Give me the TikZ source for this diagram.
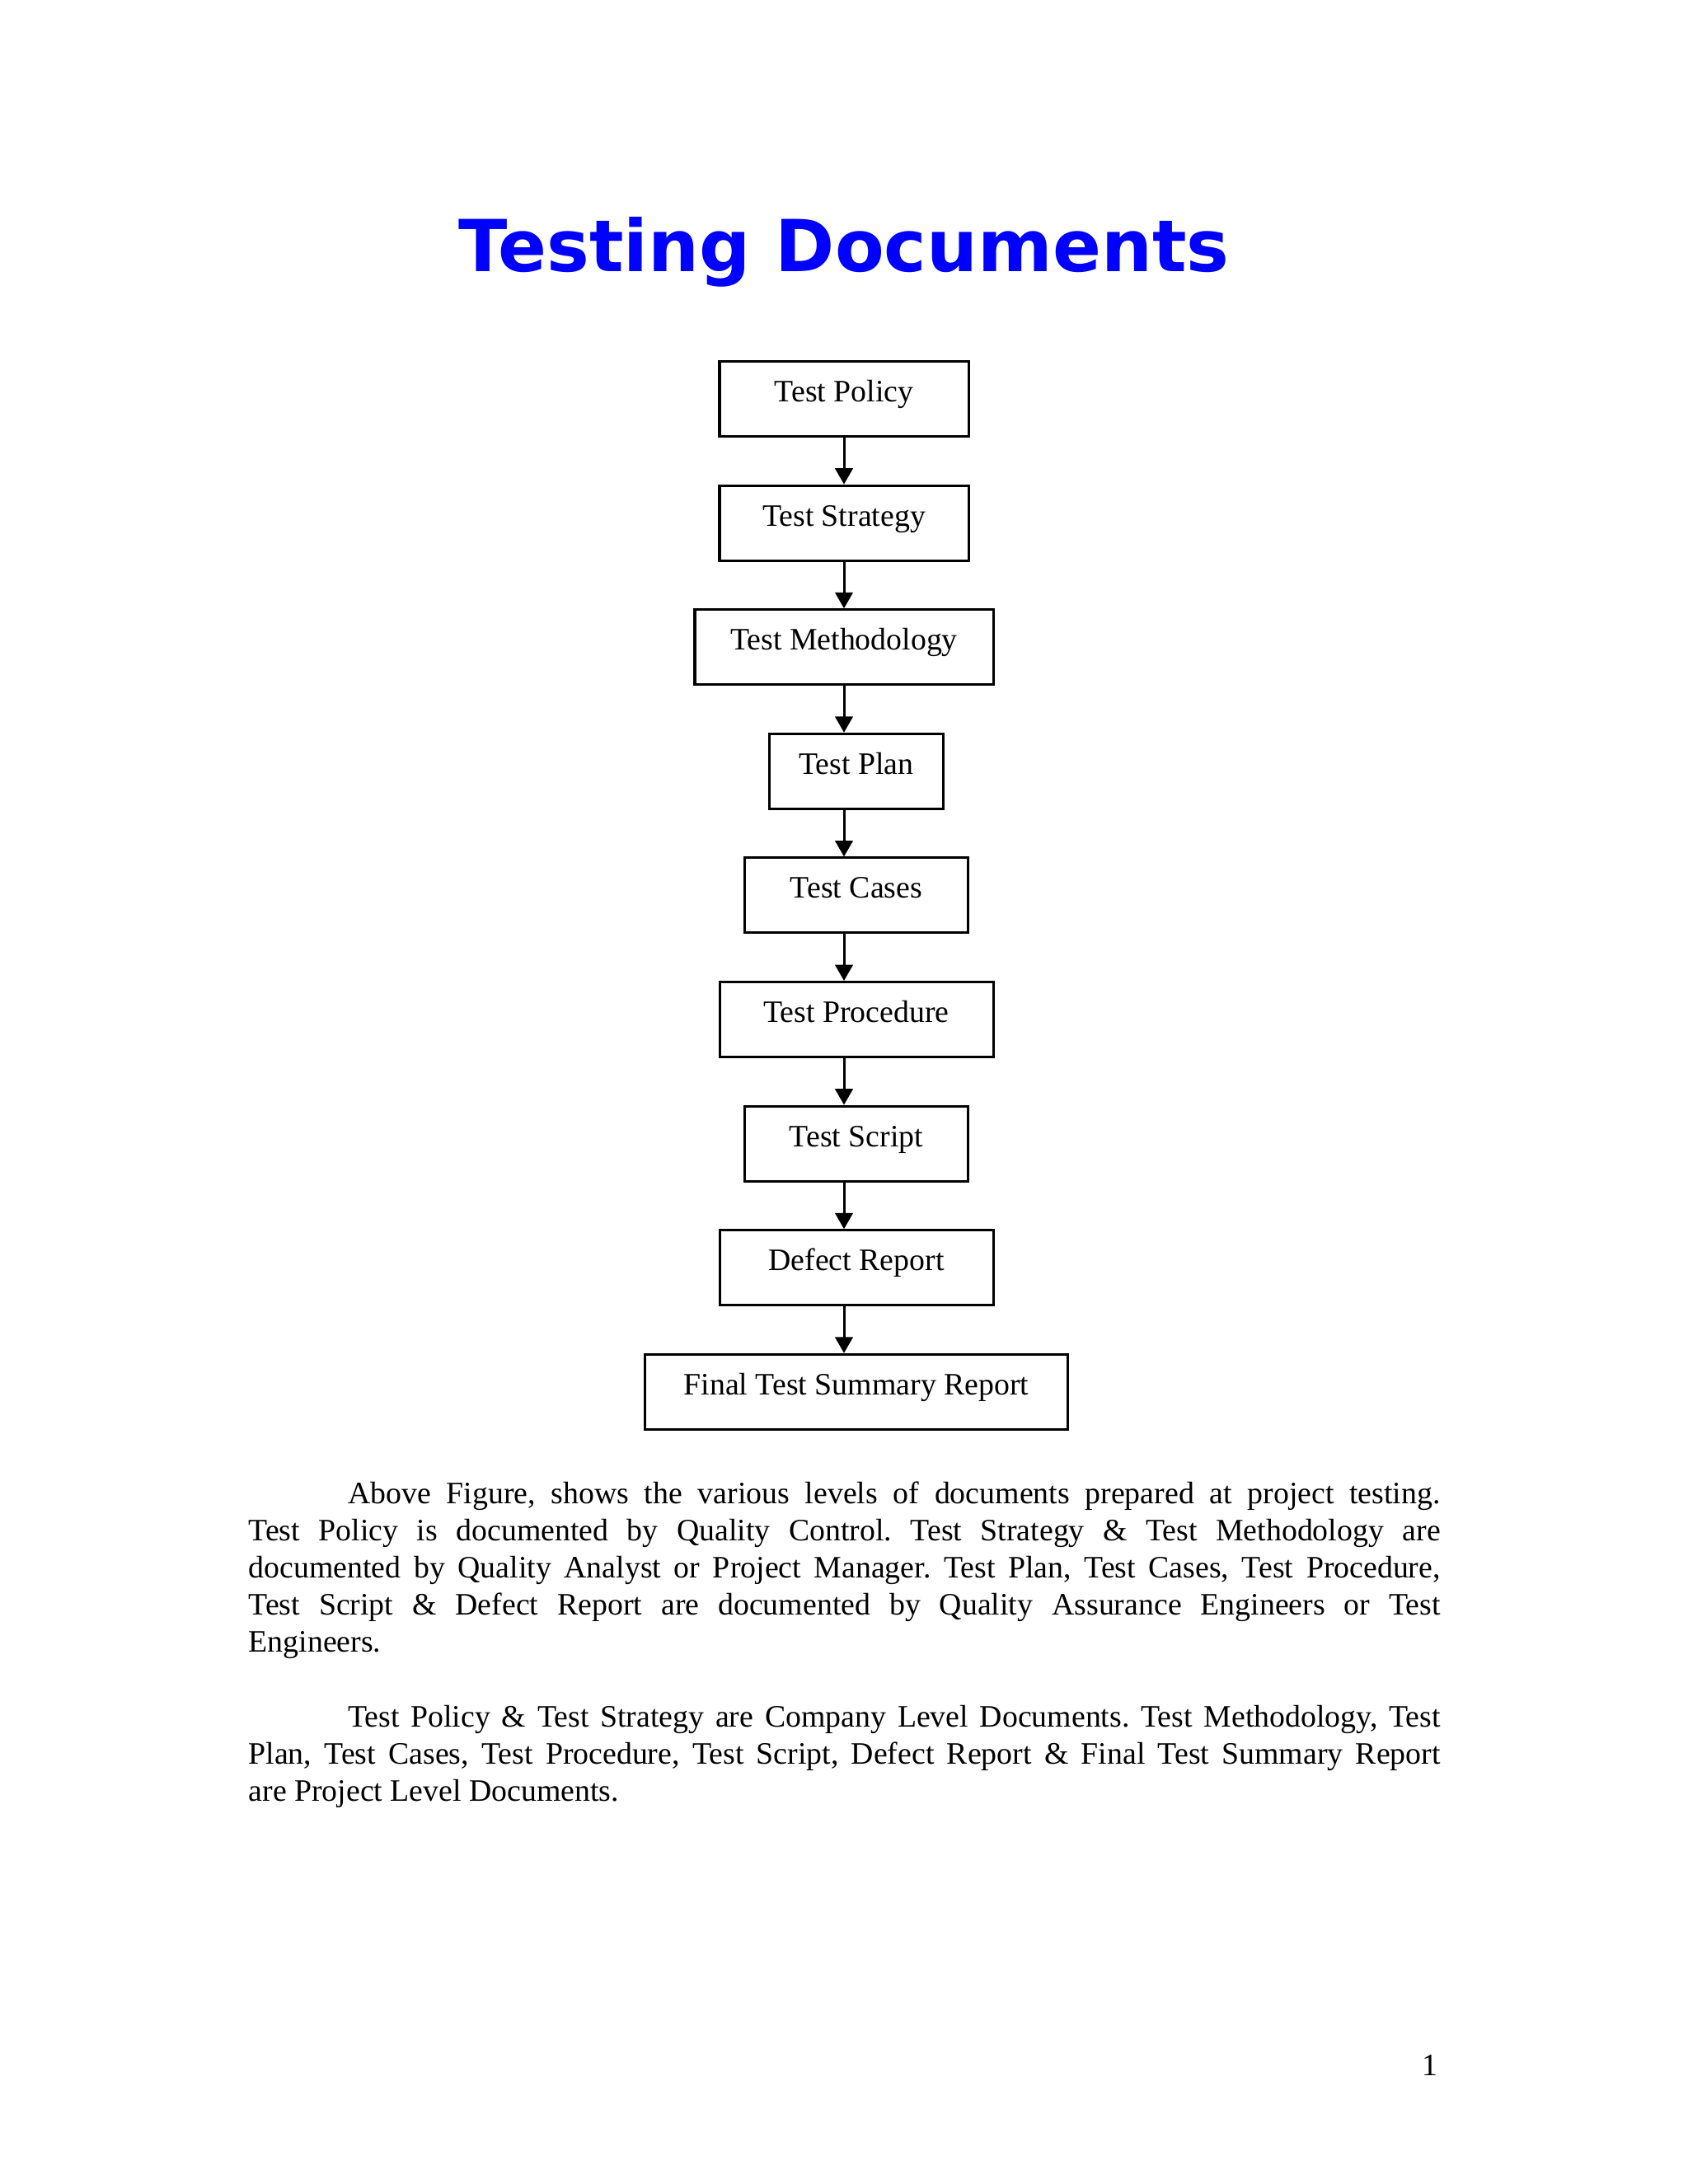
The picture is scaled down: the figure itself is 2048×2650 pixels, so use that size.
\documentclass[tikz,border=0pt]{standalone}
\usepackage{fontspec}
\setmainfont{Liberation Serif}
\newfontfamily\titlefont{DejaVu Sans}
\usetikzlibrary{arrows.meta}
\frenchspacing
\tikzset{
  docbox/.style={draw, line width=0.9pt, rectangle, inner xsep=0pt, inner ysep=0pt,
    minimum height=27.19pt, text height=14.64pt, text depth=12.55pt, anchor=north,
    font=\fontsize{11.3pt}{13.5pt}\selectfont},
  flow/.style={line width=0.9pt, -{Triangle[width=6.4pt,length=5.8pt]}},
  bodytext/.style={anchor=base west, inner sep=0pt, font=\fontsize{11.3pt}{13.5pt}\selectfont}
}
\begin{document}
\begin{tikzpicture}[x=0.29883pt,y=-0.29883pt]
\fill[white] (0,0) rectangle (2048,2650);
\useasboundingbox (0,0) rectangle (2048,2650);

\node[anchor=base, inner sep=0pt, text=blue,
  font=\titlefont\bfseries\fontsize{26pt}{30pt}\selectfont] (title) at (1024,329) {Testing Documents};

\coordinate (ax) at (1024,0);

\node[docbox, minimum width=90.25pt]  (policy)   at (1024,437)    {Test Policy};
\node[docbox, minimum width=90.25pt]  (strategy) at (1024,587.6)  {Test Strategy};
\node[docbox, minimum width=108.18pt] (meth)     at (1024,738.2)  {Test Methodology};
\node[docbox, minimum width=63.05pt]  (plan)     at (1039,888.8)  {Test Plan};
\node[docbox, minimum width=80.98pt]  (cases)    at (1039,1039.4) {Test Cases};
\node[docbox, minimum width=99.21pt]  (proc)     at (1039,1190)   {Test Procedure};
\node[docbox, minimum width=80.98pt]  (script)   at (1039,1340.6) {Test Script};
\node[docbox, minimum width=99.21pt]  (defect)   at (1039,1491.2) {Defect Report};
\node[docbox, minimum width=153.3pt]  (final)    at (1039,1641.8) {Final Test Summary Report};

\draw[flow] (policy.south -| ax)   -- (strategy.north -| ax);
\draw[flow] (strategy.south -| ax) -- (meth.north -| ax);
\draw[flow] (meth.south -| ax)     -- (plan.north -| ax);
\draw[flow] (plan.south -| ax)     -- (cases.north -| ax);
\draw[flow] (cases.south -| ax)    -- (proc.north -| ax);
\draw[flow] (proc.south -| ax)     -- (script.north -| ax);
\draw[flow] (script.south -| ax)   -- (defect.north -| ax);
\draw[flow] (defect.south -| ax)   -- (final.north -| ax);

\node[bodytext] (para1) at (301,1824) {\parbox[t]{432.1pt}{%
\makebox[432.1pt][s]{\hspace*{36pt}Above Figure, shows the various levels of documents prepared at project testing.}\\
\makebox[432.1pt][s]{Test Policy is documented by Quality Control. Test Strategy \& Test Methodology are}\\
\makebox[432.1pt][s]{documented by Quality Analyst or Project Manager. Test Plan, Test Cases, Test Procedure,}\\
\makebox[432.1pt][s]{Test Script \& Defect Report are documented by Quality Assurance Engineers or Test}\\
Engineers.}};

\node[bodytext] (para2) at (301,2095) {\parbox[t]{432.1pt}{%
\makebox[432.1pt][s]{\hspace*{36pt}Test Policy \& Test Strategy are Company Level Documents. Test Methodology, Test}\\
\makebox[432.1pt][s]{Plan, Test Cases, Test Procedure, Test Script, Defect Report \& Final Test Summary Report}\\
are Project Level Documents.}};

\node[anchor=base east, inner sep=0pt, font=\fontsize{11.3pt}{13.5pt}\selectfont] (pagenum) at (1745,2518) {1};
\end{tikzpicture}
\end{document}
